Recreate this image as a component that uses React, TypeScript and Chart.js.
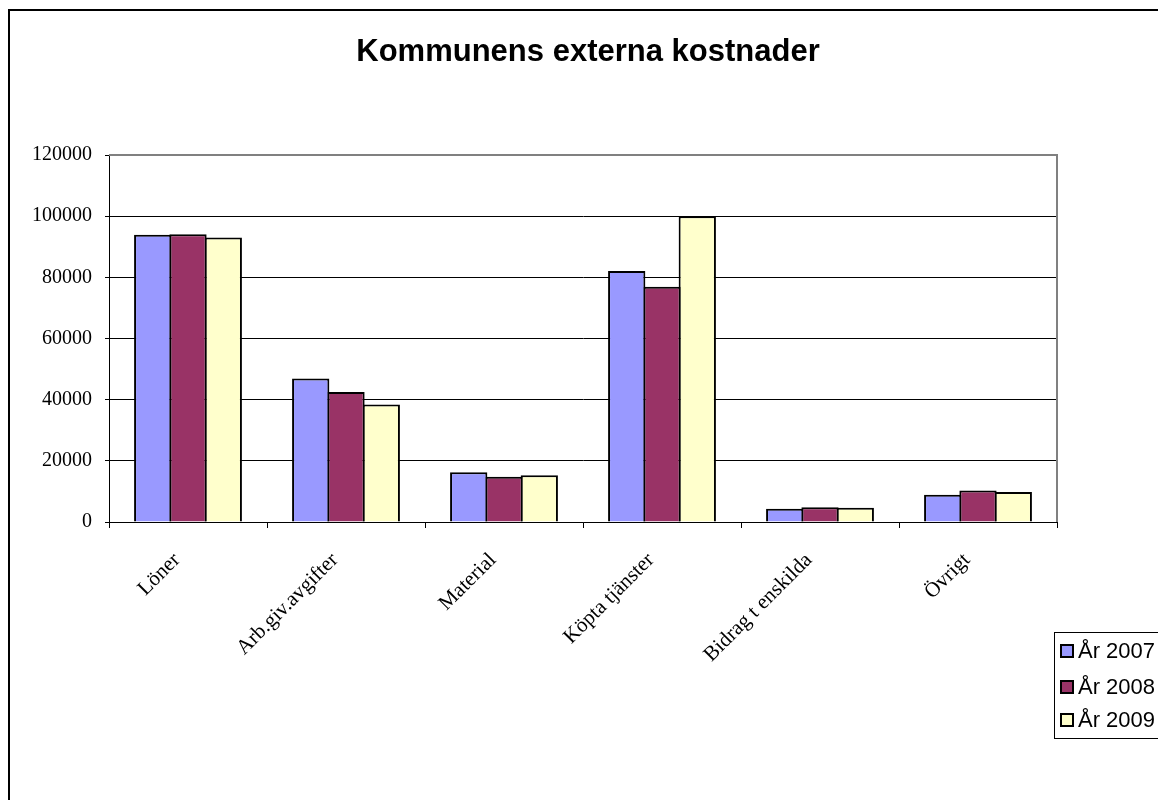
import React, { useEffect, useRef } from "react";
import { Chart, registerables } from "chart.js";

Chart.register(...registerables);

const categories = ["Löner", "Arb.giv.avgifter", "Material", "Köpta tjänster", "Bidrag t enskilda", "Övrigt"];
const seriesNames = ["År 2007", "År 2008", "År 2009"];
const values2007 = [93900, 46900, 16300, 82100, 4300, 8900];
const values2008 = [94100, 42500, 14800, 76900, 4800, 10300];
const values2009 = [93000, 38400, 15300, 100000, 4700, 9800];
const seriesColors = ["#9999FF", "#993366", "#FFFFCC"];
const yTicks = [0, 20000, 40000, 60000, 80000, 100000, 120000];

const framePlugin = {
  id: "frame",
  beforeDraw(chart: any) {
    const ctx = chart.ctx;
    ctx.save();
    ctx.fillStyle = "#fff";
    ctx.fillRect(0, 0, chart.width, chart.height);
    ctx.strokeStyle = "#000";
    ctx.lineWidth = 2;
    ctx.beginPath();
    ctx.moveTo(1, chart.height);
    ctx.lineTo(1, 2);
    ctx.lineTo(chart.width, 2);
    ctx.stroke();
    ctx.restore();
  },
  afterDatasetsDraw(chart: any) {
    const { ctx, chartArea } = chart;
    ctx.save();
    ctx.strokeStyle = "#808080";
    ctx.lineWidth = 2;
    ctx.beginPath();
    ctx.moveTo(chartArea.left, chartArea.top);
    ctx.lineTo(chartArea.right, chartArea.top);
    ctx.lineTo(chartArea.right, chartArea.bottom);
    ctx.stroke();
    ctx.restore();
  },
  afterDraw(chart: any) {
    const ctx = chart.ctx;
    ctx.save();
    const bx = 1046, by = 624, bh = 106;
    ctx.strokeStyle = "#000";
    ctx.lineWidth = 1;
    ctx.strokeRect(bx + 0.5, by + 0.5, 200, bh);
    const rows = [643, 679, 712];
    ctx.font = "22px 'Liberation Sans', Arial, sans-serif";
    ctx.textBaseline = "middle";
    ctx.textAlign = "left";
    seriesNames.forEach((name, i) => {
      const y = rows[i];
      ctx.fillStyle = seriesColors[i];
      ctx.fillRect(bx + 7, y - 6, 12, 12);
      ctx.lineWidth = 2;
      ctx.strokeStyle = "#000";
      ctx.strokeRect(bx + 7, y - 6, 12, 12);
      ctx.fillStyle = "#000";
      ctx.fillText(name, bx + 24, y + 1);
    });
    ctx.restore();
  },
};

export default function App() {
  const ref = useRef<HTMLCanvasElement | null>(null);
  useEffect(() => {
    document.body.style.margin = "8px 0 0 8px";
    document.documentElement.style.overflow = "hidden";
    if (!ref.current) return;
    const allValues = [values2007, values2008, values2009];
    const chart = new Chart(ref.current, {
      type: "bar",
      data: {
        labels: categories,
        datasets: seriesNames.map((name, i) => ({
          label: name,
          data: allValues[i],
          backgroundColor: seriesColors[i],
          borderColor: "#000",
          borderWidth: 2,
          borderSkipped: "bottom",
          categoryPercentage: 0.67,
          barPercentage: 1.057,
        })),
      },
      options: {
        animation: false,
        responsive: false,
        maintainAspectRatio: false,
        layout: { padding: { top: 0, right: 0, left: 10, bottom: 0 } },
        plugins: {
          legend: { display: false },
          tooltip: { enabled: false },
          title: {
            display: true,
            text: "Kommunens externa kostnader",
            color: "#000",
            font: { family: "'Liberation Sans', Arial, sans-serif", size: 31, weight: "bold", lineHeight: 1.2 },
            padding: { top: 25.4, bottom: 84.4 },
          },
        },
        scales: {
          x: {
            afterFit(scale: any) {
              scale.height = 278;
            },
            grid: {
              display: true,
              offset: true,
              drawOnChartArea: false,
              drawTicks: true,
              tickLength: 6,
              color: "#000",
            },
            border: { display: true, color: "#000", width: 1 },
            ticks: {
              color: "#000",
              maxRotation: 45,
              minRotation: 45,
              autoSkip: false,
              padding: 20,
              labelOffset: -11,
              font: { family: "'Liberation Serif', 'Times New Roman', serif", size: 21 },
            },
          },
          y: {
            min: 0,
            max: 120000,
            afterFit(scale: any) {
              scale.width = 91;
            },
            afterBuildTicks(scale: any) {
              scale.ticks = yTicks.map((v) => ({ value: v }));
            },
            grid: {
              color: "#000",
              lineWidth: 1,
              drawTicks: true,
              tickLength: 4,
            },
            border: { display: true, color: "#000", width: 1 },
            ticks: {
              color: "#000",
              padding: 13,
              font: { family: "'Liberation Serif', 'Times New Roman', serif", size: 20 },
              callback: (v: any) => String(v),
            },
          },
          spacer: {
            type: "linear",
            position: "right",
            display: true,
            afterFit(scale: any) {
              scale.width = 101;
            },
            grid: { display: false, drawOnChartArea: false },
            border: { display: false },
            ticks: { display: false },
          },
        },
      },
      plugins: [framePlugin],
    });
    return () => chart.destroy();
  }, []);
  return (
    <div style={{ width: 1150, height: 792 }}>
      <canvas ref={ref} width={1150} height={792} style={{ display: "block", width: 1150, height: 792 }} />
    </div>
  );
}
